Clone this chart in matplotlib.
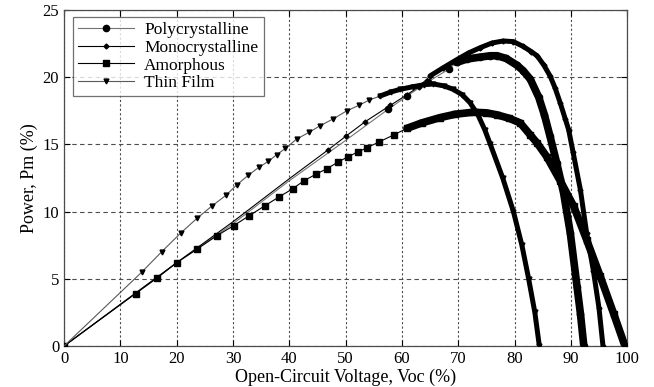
import numpy as np
import matplotlib
matplotlib.use("Agg")
import matplotlib.pyplot as plt
from matplotlib.ticker import MultipleLocator

plt.rcParams['font.family'] = ['Liberation Serif', 'DejaVu Serif']

# Open-circuit voltage (%) and power (%)
poly_v = [0, 20, 30, 40, 50, 57.5, 60.9, 64.6, 68.3, 69.7, 71.5, 73.9, 75.7, 76.9,
          78.5, 80.4, 81.5, 82.8, 84.3, 85.3, 86.3, 87.5, 88.7, 89.9, 91.1, 91.7, 92.3]
poly_p = [0, 6.2, 9.1, 12.3, 15.3, 17.6, 18.6, 19.65, 20.6, 21.1, 21.35, 21.5, 21.6, 21.6,
          21.4, 20.9, 20.5, 19.85, 18.5, 17.2, 15.6, 13.6, 11.4, 8.4, 4.4, 2.4, 0.0]

mono_v = [0, 20, 30, 40, 46.9, 50, 53.5, 57.9, 60.9, 63, 65, 67.3, 69.7, 71.8, 73.9,
          76, 78, 79.8, 81.5, 83, 84.0, 85.2, 86.3, 87.2, 88.1, 89.0, 89.6, 90.4, 91.7,
          92.8, 94.0, 95.0, 95.7]
mono_p = [0, 6.2, 9.25, 12.45, 14.6, 15.6, 16.7, 17.9, 18.7, 19.3, 20.1, 20.7, 21.3, 21.8, 22.2,
          22.55, 22.7, 22.65, 22.3, 21.9, 21.6, 20.9, 20.1, 19.2, 18.1, 16.9, 16.1, 14.4, 11.6,
          8.4, 5.6, 2.8, 0.0]

amor_v = [0, 12.7, 16.5, 20.0, 23.6, 27.1, 30.1, 32.9, 35.7, 38.2, 40.6, 42.6, 44.8, 46.7,
          48.7, 50.5, 52.2, 53.8, 56, 58.5, 60.9, 63.5, 66.8, 69.5, 72.7, 75, 76.9, 79, 81.0,
          82.8, 84.0, 85.7, 88.1, 90.5, 92.8, 95.2, 97.6, 99.6]
amor_p = [0, 3.9, 5.05, 6.2, 7.2, 8.2, 8.95, 9.7, 10.45, 11.1, 11.7, 12.3, 12.8, 13.2,
          13.7, 14.1, 14.45, 14.75, 15.2, 15.7, 16.2, 16.6, 17.0, 17.25, 17.4, 17.35, 17.2, 16.95, 16.6,
          15.7, 15.1, 14.1, 12.3, 10.4, 7.9, 5.2, 2.4, 0.0]

thin_v = [0, 13.8, 17.3, 20.7, 23.6, 26.2, 28.7, 30.7, 32.7, 34.6, 36.3, 37.8, 39.3, 41.3,
          43.5, 45.5, 47.8, 50.2, 52.3, 54.2, 56.1, 58.0, 59.7, 62.0, 64.0, 65.6, 67.5, 69.1,
          70.7, 72.1, 73.5, 74.7, 75.7, 77.9, 79.8, 81.3, 82.5, 83.6, 84.4]
thin_p = [0, 5.5, 7.0, 8.4, 9.5, 10.4, 11.2, 12.0, 12.7, 13.3, 13.75, 14.25, 14.7, 15.4,
          15.9, 16.4, 16.9, 17.5, 17.9, 18.3, 18.6, 18.9, 19.1, 19.3, 19.45, 19.5, 19.35, 19.1,
          18.7, 18.1, 17.2, 16.1, 15.0, 12.5, 10.0, 7.5, 5.0, 2.5, 0.0]

# name, v, p, marker, line colour, marker size, markers from, dense band from, band width
series = [
    ("Polycrystalline", poly_v, poly_p, "o", "0.45", 4.5, 57.0, 69.5, 5.5),
    ("Monocrystalline", mono_v, mono_p, "D", "black", 2.5, 45.0, 64.0, 3.6),
    ("Amorphous", amor_v, amor_p, "s", "black", 4.5, 0.0, 60.0, 5.5),
    ("Thin Film", thin_v, thin_p, "v", "0.35", 3.5, 0.0, 55.0, 3.6),
]

fig = plt.figure(figsize=(6.54, 3.87), dpi=100)
ax = fig.add_axes([0.098, 0.106, 0.861, 0.868])

for name, v, p, mk, col, ms, mk_from, dense_from, thick in series:
    v = np.array(v)
    p = np.array(p)
    show = list(np.where((v >= mk_from) & (v > 0) | (v == 0) & (mk == "s"))[0])
    ax.plot(v, p, color=col, lw=0.8, marker=mk, ms=ms, mfc="black", mec="black",
            markevery=show, label=name, zorder=3)
    mask = v >= dense_from
    ax.plot(v[mask], p[mask], color="black", lw=thick, solid_capstyle="round",
            solid_joinstyle="round", zorder=4)

ax.set_xlim(0, 100)
ax.set_ylim(0, 25)
ax.xaxis.set_major_locator(MultipleLocator(10))
ax.yaxis.set_major_locator(MultipleLocator(5))
ax.tick_params(direction="in", top=True, right=True, length=4, labelsize=12)
ax.grid(axis="x", color="0.3", ls=(0, (2, 2)), lw=0.8)
ax.grid(axis="y", color="0.3", ls=(0, (4, 3)), lw=0.8)
for s in ax.spines.values():
    s.set_color("0.3")
    s.set_linewidth(0.9)

ax.set_xlabel("Open-Circuit Voltage, Voc (%)", fontsize=13, labelpad=1)
ax.set_ylabel("Power, Pm (%)", fontsize=13, labelpad=3)

leg = ax.legend(loc="upper left", bbox_to_anchor=(0.016, 0.979), fontsize=12.5,
                frameon=True, fancybox=False, edgecolor="0.3", handlelength=3.2,
                borderpad=0.3, labelspacing=0.08, handletextpad=0.6,
                borderaxespad=0.0)
leg.get_frame().set_linewidth(0.9)

fig.savefig("out.png", dpi=100)
